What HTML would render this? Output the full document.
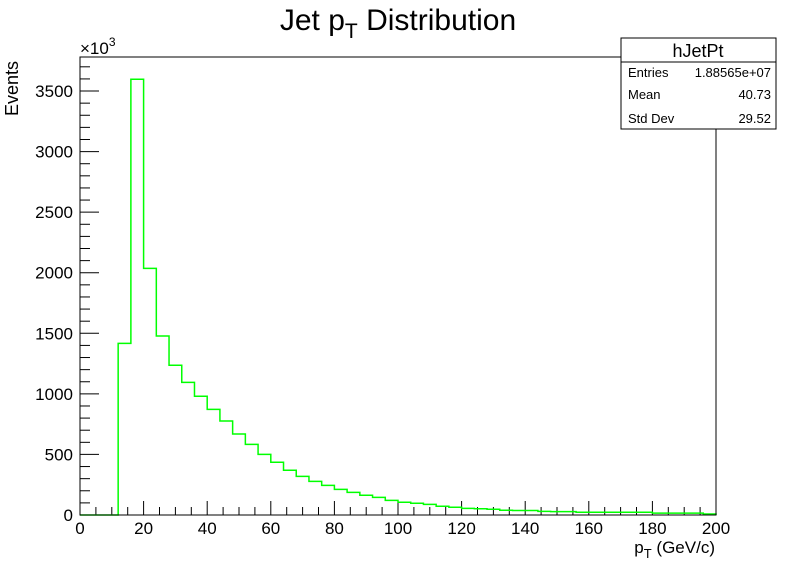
<!DOCTYPE html>
<html><head><meta charset="utf-8"><style>
body{margin:0;background:#fff;}
svg text{font-family:"Liberation Sans",Arial,sans-serif;}
</style></head><body>
<svg id="chart" width="796" height="572" viewBox="0 0 796 572">
<rect x="0" y="0" width="796" height="572" fill="#fff"/>
<text x="398" y="30" font-size="30" text-anchor="middle">Jet p<tspan font-size="21" dy="8">T</tspan><tspan dy="-8"> Distribution</tspan></text>
<g id="axes"></g>
<path id="hist" fill="none" stroke="#00ff00" stroke-width="1.5"/>
<rect x="80" y="57" width="636" height="458" fill="none" stroke="#000" stroke-width="1"/>
<g>
<rect x="621" y="38" width="155" height="91" fill="#fff" stroke="#000" stroke-width="1"/>
<line x1="621" y1="62" x2="776" y2="62" stroke="#000"/>
<text x="698" y="57" font-size="18" text-anchor="middle">hJetPt</text>
<text x="628" y="77" font-size="13">Entries</text>
<text x="771" y="77" font-size="13" text-anchor="end">1.88565e+07</text>
<text x="628" y="99" font-size="13">Mean</text>
<text x="771" y="99" font-size="13" text-anchor="end">40.73</text>
<text x="628" y="123" font-size="13">Std Dev</text>
<text x="771" y="123" font-size="13" text-anchor="end">29.52</text>
</g>
<text x="80" y="54" font-size="17">×10<tspan font-size="12" dy="-8">3</tspan></text>
<text transform="translate(18,116) rotate(-90)" font-size="18">Events</text>
<text x="715" y="553" font-size="17" text-anchor="end">p<tspan font-size="13" dy="5">T</tspan><tspan dy="-5"> (GeV/c)</tspan></text>
</svg>
<script>
const binEdgeStart = 0;
const binWidth = 4;
const counts = [0,0,0,1417,3597,2036,1478,1236,1095,980,872,776,669,583,501,435,369,319,278,245,212,187,163,146,121,105,97,88,72,64,55,52,47,39,37,37,30,28,28,23,23,23,23,23,23,15,15,15,15,8];
const xTicks = [0,20,40,60,80,100,120,140,160,180,200];
const yTicks = [0,500,1000,1500,2000,2500,3000,3500];
const NS="http://www.w3.org/2000/svg";
const X0=80,X1=716,Y0=515,Y1=57,XMAX=200,YMAX=3781;
function sx(v){return X0+(v/XMAX)*(X1-X0);}
function sy(v){return Y0-(v/YMAX)*(Y0-Y1);}
let d="M"+sx(binEdgeStart)+","+sy(0);
counts.forEach((c,i)=>{const a=binEdgeStart+i*binWidth;d+=" L"+sx(a)+","+sy(c)+" L"+sx(a+binWidth)+","+sy(c);});
d+=" L"+sx(binEdgeStart+counts.length*binWidth)+","+sy(0);
document.getElementById('hist').setAttribute('d',d);
const ax=document.getElementById('axes');
function line(x1,y1,x2,y2){const l=document.createElementNS(NS,'line');l.setAttribute('x1',x1);l.setAttribute('y1',y1);l.setAttribute('x2',x2);l.setAttribute('y2',y2);l.setAttribute('stroke','#000');


ax.appendChild(l);}
function text(x,y,s,anchor,name){const t=document.createElementNS(NS,'text');t.setAttribute('x',x);t.setAttribute('y',y);t.setAttribute('font-size','17');t.setAttribute('text-anchor',anchor);t.textContent=s;


ax.appendChild(t);}
for(let v=0;v<=XMAX;v+=5){const major=v%20===0;line(sx(v),Y0,sx(v),Y0-(major?14:8));}
xTicks.forEach(v=>text(sx(v),534,String(v),'middle','x-tick-label'));
for(let v=0;v<=YMAX;v+=100){const major=v%500===0;line(X0,sy(v),X0+(major?19:10),sy(v));}
yTicks.forEach(v=>text(X0-7,sy(v)+6,String(v),'end','y-tick-label'));
</script>
</body></html>
